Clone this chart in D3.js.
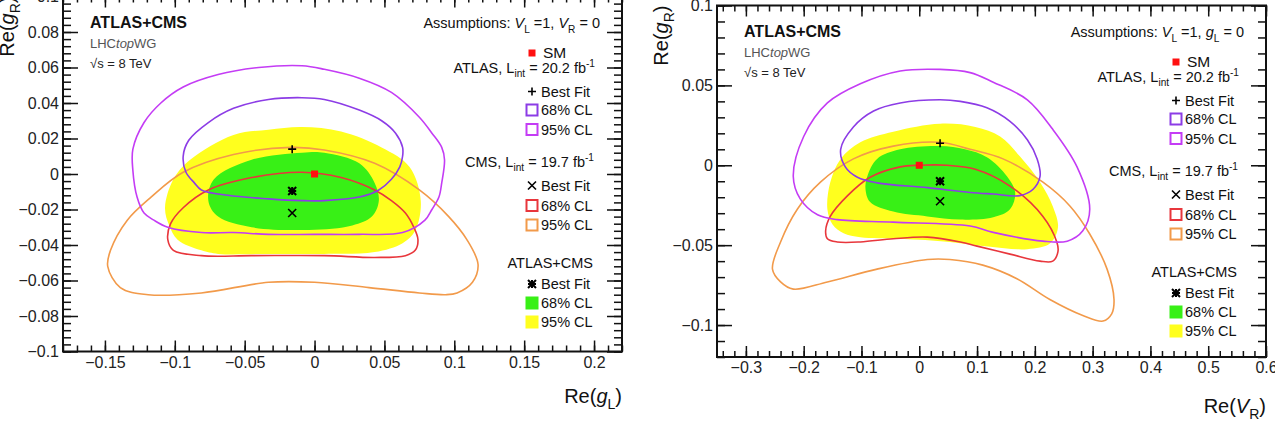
<!DOCTYPE html>
<html>
<head>
<meta charset="utf-8">
<script src="https://cdn.jsdelivr.net/npm/d3@7"></script>
<style>
	body { margin: 0; background: #fff; }
	svg { display: block; font-family: 'Liberation Sans', Arial, Helvetica, sans-serif; }
</style>
</head>
<body>
<svg id="chart" width="1275" height="425"></svg>
<script>
'use strict';

// left panel: Re(gL) vs Re(gR), assumptions VL = 1, VR = 0
var GL_X_TICKS = [-0.15, -0.1, -0.05, 0, 0.05, 0.1, 0.15, 0.2];
var GL_Y_TICKS = [-0.1, -0.08, -0.06, -0.04, -0.02, 0, 0.02, 0.04, 0.06, 0.08, 0.1];

var GL_ATLAS_68 = [[-0.009,0.043],[0.007,0.042],[0.032,0.036],[0.048,0.030],[0.058,0.023],[0.063,0.015],[0.063,0.010],[0.061,0.004],[0.055,-0.003],[0.046,-0.009],[0.032,-0.013],[0.007,-0.015],[-0.009,-0.015],[-0.033,-0.014],[-0.062,-0.012],[-0.081,-0.009],[-0.086,-0.005],[-0.092,0.001],[-0.094,0.010],[-0.090,0.019],[-0.076,0.029],[-0.058,0.037],[-0.033,0.042]];
var GL_ATLAS_95 = [[-0.009,0.061],[0.007,0.059],[0.032,0.054],[0.055,0.046],[0.075,0.032],[0.084,0.023],[0.091,0.015],[0.093,0.008],[0.091,-0.005],[0.089,-0.013],[0.084,-0.020],[0.079,-0.026],[0.063,-0.033],[0.032,-0.034],[0,-0.034],[-0.033,-0.034],[-0.058,-0.033],[-0.081,-0.033],[-0.105,-0.030],[-0.115,-0.026],[-0.122,-0.022],[-0.127,-0.013],[-0.130,0.002],[-0.130,0.014],[-0.122,0.029],[-0.110,0.040],[-0.094,0.049],[-0.069,0.056],[-0.040,0.060]];
var GL_CMS_68 = [[-0.105,-0.037],[-0.103,-0.028],[-0.094,-0.019],[-0.076,-0.009],[-0.045,-0.002],[-0.009,0.001],[0.019,-0.002],[0.043,-0.009],[0.055,-0.015],[0.065,-0.022],[0.071,-0.030],[0.074,-0.037],[0.072,-0.043],[0.065,-0.046],[0.043,-0.047],[0.007,-0.046],[-0.045,-0.046],[-0.081,-0.046],[-0.101,-0.043]];
var GL_CMS_95 = [[-0.148,-0.052],[-0.146,-0.043],[-0.134,-0.026],[-0.117,-0.013],[-0.094,0.001],[-0.058,0.011],[-0.017,0.015],[0.007,0.0135],[0.043,0.006],[0.075,-0.009],[0.096,-0.024],[0.109,-0.037],[0.117,-0.051],[0.113,-0.061],[0.102,-0.067],[0.094,-0.068],[0.075,-0.067],[0.039,-0.064],[0,-0.061],[-0.033,-0.061],[-0.081,-0.067],[-0.119,-0.068],[-0.139,-0.064]];
var GL_COMB_68 = [[-0.009,0.012],[0.007,0.012],[0.032,0.006],[0.043,-0.005],[0.046,-0.015],[0.041,-0.024],[0.027,-0.029],[-0.004,-0.0315],[-0.045,-0.030],[-0.069,-0.024],[-0.076,-0.015],[-0.072,-0.003],[-0.045,0.008]];
var GL_COMB_95 = [[-0.009,0.0265],[0.019,0.024],[0.048,0.015],[0.068,0.004],[0.076,-0.015],[0.072,-0.032],[0.063,-0.039],[0.043,-0.044],[0.007,-0.045],[-0.033,-0.045],[-0.069,-0.045],[-0.081,-0.043],[-0.098,-0.037],[-0.104,-0.029],[-0.107,-0.019],[-0.101,-0.003],[-0.089,0.008],[-0.058,0.022],[-0.033,0.025]];
var GL_FITS = { sm: [0, 0], atlas: [-0.016, 0.014], cms: [-0.016, -0.022], comb: [-0.016, -0.0096] };

// right panel: Re(VR) vs Re(gR), assumptions VL = 1, gL = 0
var VR_X_TICKS = [-0.3, -0.2, -0.1, 0, 0.1, 0.2, 0.3, 0.4, 0.5, 0.6];
var VR_Y_TICKS = [-0.1, -0.05, 0, 0.05, 0.1];

var VR_ATLAS_68 = [[0.036,0.041],[0.071,0.040],[0.117,0.036],[0.157,0.0275],[0.187,0.016],[0.204,0.004],[0.209,-0.007],[0.197,-0.015],[0.174,-0.019],[0.128,-0.018],[0.088,-0.017],[0.014,-0.014],[-0.073,-0.011],[-0.107,-0.0075],[-0.128,-0.001],[-0.136,0.010],[-0.114,0.024],[-0.079,0.034],[-0.033,0.039]];
var VR_ATLAS_95 = [[0.036,0.060],[0.088,0.058],[0.128,0.052],[0.187,0.041],[0.231,0.0225],[0.273,-0.001],[0.295,-0.0275],[0.283,-0.041],[0.256,-0.0475],[0.214,-0.0475],[0.128,-0.042],[0.088,-0.038],[-0.045,-0.0356],[-0.142,-0.034],[-0.176,-0.031],[-0.206,-0.021],[-0.218,-0.007],[-0.200,0.018],[-0.159,0.039],[-0.102,0.051],[-0.033,0.059]];
var VR_CMS_68 = [[-0.162,-0.041],[-0.154,-0.032],[-0.124,-0.019],[-0.085,-0.0075],[-0.033,-0.001],[0,0],[0.048,0],[0.097,-0.0025],[0.157,-0.013],[0.214,-0.032],[0.238,-0.048],[0.240,-0.054],[0.231,-0.060],[0.209,-0.060],[0.157,-0.0556],[0.100,-0.0506],[0.071,-0.048],[0.014,-0.045],[-0.045,-0.046],[-0.102,-0.048],[-0.142,-0.048],[-0.159,-0.046]];
var VR_CMS_95 = [[-0.254,-0.065],[-0.240,-0.048],[-0.211,-0.0275],[-0.171,-0.0106],[-0.114,0.004],[-0.045,0.012],[0.036,0.0144],[0.088,0.010],[0.145,0.004],[0.214,-0.0106],[0.261,-0.0256],[0.295,-0.043],[0.325,-0.065],[0.337,-0.084],[0.333,-0.093],[0.318,-0.0975],[0.283,-0.094],[0.226,-0.084],[0.169,-0.071],[0.110,-0.0625],[0.053,-0.059],[0.014,-0.059],[-0.073,-0.065],[-0.159,-0.073],[-0.218,-0.0775],[-0.240,-0.073]];
var VR_COMB_68 = [[0.036,0.012],[0.079,0.010],[0.117,0.005],[0.152,-0.007],[0.166,-0.017],[0.157,-0.0275],[0.128,-0.0325],[0.071,-0.034],[0.014,-0.032],[-0.045,-0.029],[-0.085,-0.023],[-0.093,-0.015],[-0.090,-0.007],[-0.073,0.004],[-0.033,0.010]];
var VR_COMB_95 = [[0.036,0.026],[0.097,0.024],[0.140,0.018],[0.174,0.0056],[0.209,-0.0106],[0.231,-0.0256],[0.240,-0.039],[0.226,-0.049],[0.187,-0.0525],[0.123,-0.051],[0.053,-0.048],[-0.033,-0.046],[-0.102,-0.045],[-0.131,-0.0425],[-0.150,-0.037],[-0.159,-0.0275],[-0.154,-0.0106],[-0.136,0.004],[-0.102,0.0144],[-0.045,0.021]];
var VR_FITS = { sm: [0, 0], atlas: [0.036, 0.0138], cms: [0.036, -0.0225], comb: [0.036, -0.010] };

var COLORS = {
	atlas68: '#8c3ce6',
	atlas95: '#c43cf5',
	cms68: '#e8363c',
	cms95: '#f29a4a',
	comb68: '#38f016',
	comb95: '#ffff1e',
	sm: '#ff1010'
};

var panels = [{
	left: 63, right: 622, top: -3.5, bottom: 351.5,
	xDomain: [-0.18, 0.22], yDomain: [-0.1, 0.1],
	xTicks: GL_X_TICKS, yTicks: GL_Y_TICKS, xMinor: 0.01, yMinor: 0.004,
	atlas68: GL_ATLAS_68, atlas95: GL_ATLAS_95, cms68: GL_CMS_68, cms95: GL_CMS_95,
	comb68: GL_COMB_68, comb95: GL_COMB_95, fits: GL_FITS,
	xTitle: [{t: 'Re('}, {t: 'g', it: 1}, {t: 'L', sub: 1}, {t: ')'}], xTitleDy: 51,
	yTitle: [{t: 'Re('}, {t: 'g', it: 1}, {t: 'R', sub: 1}, {t: ')'}],
	assume: [{t: 'Assumptions: '}, {t: 'V', it: 1}, {t: 'L', sub: 1}, {t: ' =1, '}, {t: 'V', it: 1}, {t: 'R', sub: 1}, {t: ' = 0'}]
}, {
	left: 717, right: 1266, top: 5.5, bottom: 357,
	xDomain: [-0.35, 0.6], yDomain: [-0.12, 0.1],
	xTicks: VR_X_TICKS, yTicks: VR_Y_TICKS, xMinor: 0.02, yMinor: 0.01,
	atlas68: VR_ATLAS_68, atlas95: VR_ATLAS_95, cms68: VR_CMS_68, cms95: VR_CMS_95,
	comb68: VR_COMB_68, comb95: VR_COMB_95, fits: VR_FITS,
	xTitle: [{t: 'Re('}, {t: 'V', it: 1}, {t: 'R', sub: 1}, {t: ')'}], xTitleDy: 56,
	yTitle: [{t: 'Re('}, {t: 'g', it: 1}, {t: 'R', sub: 1}, {t: ')'}],
	assume: [{t: 'Assumptions: '}, {t: 'V', it: 1}, {t: 'L', sub: 1}, {t: ' =1, '}, {t: 'g', it: 1}, {t: 'L', sub: 1}, {t: ' = 0'}]
}];

var svg = d3.select('#chart');

var fmt = function(d) {
	return String(d).replace('-', '\u2212');
};

// text with italic / sub / superscript parts
var richText = function(sel, x, y, parts, size, anchor) {
	var t = sel.append('text')
		.attr('x', x)
		.attr('y', y)
		.attr('font-size', size)
		.attr('fill', '#111')
		.attr('text-anchor', anchor || 'start');
	var shift = 0;
	parts.forEach(function(p) {
		var s = p.sub ? size * 0.32 : (p.sup ? -size * 0.4 : 0);
		var ts = t.append('tspan').text(p.t).attr('dy', s - shift);
		if (p.sub || p.sup) {
			ts.attr('font-size', size * 0.7);
		}
		if (p.it) {
			ts.attr('font-style', 'italic');
		}
		shift = s;
	});
	return t;
};

var drawMarker = function(g, kind, cx, cy) {
	var r = 4;
	if (kind === 'sm') {
		g.append('rect')
			.attr('x', cx - 3.5).attr('y', cy - 3.5)
			.attr('width', 7).attr('height', 7)
			.attr('fill', COLORS.sm);
		return;
	}
	var d = '';
	if (kind === 'plus' || kind === 'star') {
		d += 'M' + (cx - r) + ',' + cy + 'H' + (cx + r) + 'M' + cx + ',' + (cy - r) + 'V' + (cy + r);
	}
	if (kind === 'cross' || kind === 'star') {
		d += 'M' + (cx - r) + ',' + (cy - r) + 'L' + (cx + r) + ',' + (cy + r) +
			'M' + (cx - r) + ',' + (cy + r) + 'L' + (cx + r) + ',' + (cy - r);
	}
	g.append('path')
		.attr('d', d)
		.attr('stroke', '#000')
		.attr('stroke-width', kind === 'star' ? 2 : 1.6)
		.attr('fill', 'none');
};

var drawPanel = function(p, index) {
	var x = d3.scaleLinear().domain(p.xDomain).range([p.left, p.right]),
		y = d3.scaleLinear().domain(p.yDomain).range([p.bottom, p.top]),
		g = svg.append('g'),
		clipId = 'clip' + index,
		line = d3.line()
			.x(function(d) { return x(d[0]); })
			.y(function(d) { return y(d[1]); })
			.curve(d3.curveCatmullRomClosed.alpha(0.5));

	g.append('clipPath').attr('id', clipId)
		.append('rect')
		.attr('x', p.left).attr('y', p.top)
		.attr('width', p.right - p.left).attr('height', p.bottom - p.top);

	var plot = g.append('g').attr('clip-path', 'url(#' + clipId + ')');

	// filled combined contours
	plot.append('path').attr('d', line(p.comb95)).attr('fill', COLORS.comb95);
	plot.append('path').attr('d', line(p.comb68)).attr('fill', COLORS.comb68);

	// individual experiment contours
	[['cms95', p.cms95], ['cms68', p.cms68], ['atlas95', p.atlas95], ['atlas68', p.atlas68]]
		.forEach(function(c) {
			plot.append('path')
				.attr('d', line(c[1]))
				.attr('fill', 'none')
				.attr('stroke', COLORS[c[0]])
				.attr('stroke-width', 1.6);
		});

	// best fits and SM
	drawMarker(plot, 'plus', x(p.fits.atlas[0]), y(p.fits.atlas[1]));
	drawMarker(plot, 'cross', x(p.fits.cms[0]), y(p.fits.cms[1]));
	drawMarker(plot, 'star', x(p.fits.comb[0]), y(p.fits.comb[1]));
	drawMarker(plot, 'sm', x(p.fits.sm[0]), y(p.fits.sm[1]));

	// axes
	var xMinor = d3.range(Math.ceil(p.xDomain[0] / p.xMinor), Math.floor(p.xDomain[1] / p.xMinor) + 1)
			.map(function(i) { return +(i * p.xMinor).toFixed(4); }),
		yMinor = d3.range(Math.ceil(p.yDomain[0] / p.yMinor - 1e-9), Math.floor(p.yDomain[1] / p.yMinor + 1e-9) + 1)
			.map(function(i) { return +(i * p.yMinor).toFixed(4); });

	var axes = [
		[d3.axisBottom(x).tickValues(p.xTicks).tickSize(-11).tickPadding(5).tickFormat(fmt), 0, p.bottom],
		[d3.axisBottom(x).tickValues(xMinor).tickSize(-6).tickFormat(''), 0, p.bottom],
		[d3.axisTop(x).tickValues(p.xTicks).tickSize(-11).tickFormat(''), 0, p.top],
		[d3.axisTop(x).tickValues(xMinor).tickSize(-6).tickFormat(''), 0, p.top],
		[d3.axisLeft(y).tickValues(p.yTicks).tickSize(-15).tickPadding(4).tickFormat(fmt), p.left, 0],
		[d3.axisLeft(y).tickValues(yMinor).tickSize(-8).tickFormat(''), p.left, 0],
		[d3.axisRight(y).tickValues(p.yTicks).tickSize(-15).tickFormat(''), p.right, 0],
		[d3.axisRight(y).tickValues(yMinor).tickSize(-8).tickFormat(''), p.right, 0]
	];
	axes.forEach(function(a) {
		var ag = g.append('g')
			.attr('transform', 'translate(' + a[1] + ',' + a[2] + ')')
			.call(a[0].tickSizeOuter(0));
		ag.select('.domain').remove();
		ag.selectAll('line').attr('stroke', '#111').attr('stroke-width', 1.5);
		ag.selectAll('text')
			.attr('font-size', 16)
			.attr('fill', '#222')
			.attr('font-family', "'Liberation Sans', Arial, sans-serif");
	});

	// frame
	g.append('rect')
		.attr('x', p.left).attr('y', p.top)
		.attr('width', p.right - p.left).attr('height', p.bottom - p.top)
		.attr('fill', 'none')
		.attr('stroke', '#111')
		.attr('stroke-width', 2);

	// axis titles
	richText(g, p.right, p.bottom + p.xTitleDy, p.xTitle, 20, 'end');
	richText(g, 0, 0, p.yTitle, 20, 'end')
		.attr('transform', 'translate(' + (p.left - 49) + ',' + p.top + ') rotate(-90)');

	// labels top-left
	g.append('text')
		.attr('x', p.left + 27).attr('y', p.top + 31)
		.attr('font-size', 16).attr('font-weight', 'bold').attr('fill', '#111')
		.text('ATLAS+CMS');
	var lhc = g.append('text')
		.attr('x', p.left + 27).attr('y', p.top + 51)
		.attr('font-size', 13).attr('fill', '#555');
	lhc.append('tspan').text('LHC');
	lhc.append('tspan').attr('font-style', 'italic').text('top');
	lhc.append('tspan').text('WG');
	g.append('text')
		.attr('x', p.left + 27).attr('y', p.top + 71)
		.attr('font-size', 13).attr('fill', '#222')
		.text('\u221As = 8 TeV');

	// legend
	var lx = p.right - 96,
		tx = lx + 15,
		ly = function(v) { return p.top + v; },
		fs = 14.5;

	var boxRow = function(v, color, filled, label) {
		g.append('rect')
			.attr('x', filled ? lx - 0.5 : lx + 0.5)
			.attr('y', ly(v) - (filled ? 6.5 : 5.5))
			.attr('width', filled ? 13 : 11)
			.attr('height', filled ? 13 : 11)
			.attr('fill', filled ? color : '#fff')
			.attr('stroke', filled ? 'none' : color)
			.attr('stroke-width', 2);
		richText(g, tx, ly(v) + 5, [{t: label}], fs);
	};

	richText(g, p.right - 22, ly(31.5), p.assume, fs, 'end');

	drawMarker(g, 'sm', lx + 6, ly(56.5));
	richText(g, tx + 2, ly(61.5), [{t: 'SM'}], fs + 1);

	// ATLAS
	richText(g, p.right - 27, ly(76),
		[{t: 'ATLAS,  L'}, {t: 'int', sub: 1}, {t: ' = 20.2 fb'}, {t: '-1', sup: 1}], fs, 'end');
	drawMarker(g, 'plus', lx + 6, ly(95));
	richText(g, tx, ly(100), [{t: 'Best Fit'}], fs);
	boxRow(113.5, COLORS.atlas68, false, '68% CL');
	boxRow(133, COLORS.atlas95, false, '95% CL');

	// CMS
	richText(g, p.right - 28, ly(170),
		[{t: 'CMS, L'}, {t: 'int', sub: 1}, {t: ' = 19.7 fb'}, {t: '-1', sup: 1}], fs, 'end');
	drawMarker(g, 'cross', lx + 6, ly(189));
	richText(g, tx, ly(194), [{t: 'Best Fit'}], fs);
	boxRow(209, COLORS.cms68, false, '68% CL');
	boxRow(228.5, COLORS.cms95, false, '95% CL');

	// combination
	richText(g, p.right - 29, ly(271.5), [{t: 'ATLAS+CMS'}], fs, 'end');
	drawMarker(g, 'star', lx + 6, ly(287.5));
	richText(g, tx, ly(292.5), [{t: 'Best Fit'}], fs);
	boxRow(306.5, COLORS.comb68, true, '68% CL');
	boxRow(325.5, COLORS.comb95, true, '95% CL');
};

panels.forEach(drawPanel);
</script>
</body>
</html>
